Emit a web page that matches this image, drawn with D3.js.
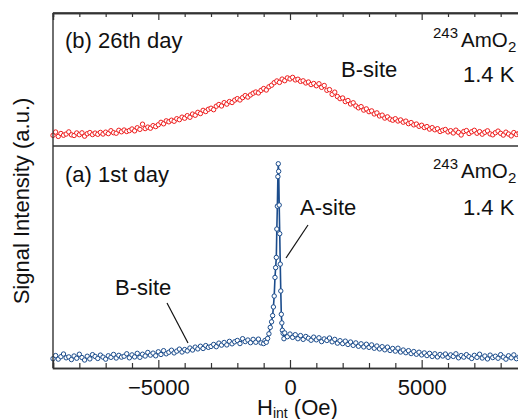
<!DOCTYPE html>
<html>
<head>
<meta charset="utf-8">
<script src="https://cdn.jsdelivr.net/npm/d3@7"></script>
<style>
  body { margin: 0; background: #fff; }
  text { font-family: "Liberation Sans", Arial, sans-serif; fill: #111; }
</style>
</head>
<body>
<div id="chart"></div>
<script>
// field grid (Oe), shared by both spectra
var fieldGrid = [
  -9000,-8900,-8800,-8700,-8600,-8500,-8400,-8300,-8200,-8100,
  -8000,-7900,-7800,-7700,-7600,-7500,-7400,-7300,-7200,-7100,
  -7000,-6900,-6800,-6700,-6600,-6500,-6400,-6300,-6200,-6100,
  -6000,-5900,-5800,-5700,-5600,-5500,-5400,-5300,-5200,-5100,
  -5000,-4900,-4800,-4700,-4600,-4500,-4400,-4300,-4200,-4100,
  -4000,-3900,-3800,-3700,-3600,-3500,-3400,-3300,-3200,-3100,
  -3000,-2900,-2800,-2700,-2600,-2500,-2400,-2300,-2200,-2100,
  -2000,-1900,-1800,-1700,-1600,-1500,-1400,-1300,-1200,-1100,
  -1000,-900,-800,-700,-600,-500,-400,-300,-200,-100,
  0,100,200,300,400,500,600,700,800,900,
  1000,1100,1200,1300,1400,1500,1600,1700,1800,1900,
  2000,2100,2200,2300,2400,2500,2600,2700,2800,2900,
  3000,3100,3200,3300,3400,3500,3600,3700,3800,3900,
  4000,4100,4200,4300,4400,4500,4600,4700,4800,4900,
  5000,5100,5200,5300,5400,5500,5600,5700,5800,5900,
  6000,6100,6200,6300,6400,6500,6600,6700,6800,6900,
  7000,7100,7200,7300,7400,7500,7600,7700,7800,7900,
  8000,8100,8200,8300,8400,8500,8600,8700,8800,8900,
  9000
];

// (b) 26th day, red
var day26Signal = [
  8.0,10.5,7.2,9.4,8.1,9.0,10.6,8.4,7.9,9.8,
  8.5,9.9,7.4,9.2,10.1,8.6,9.7,8.8,10.2,9.0,
  10.4,9.3,11.5,10.0,9.6,11.8,10.7,12.0,10.9,11.6,
  12.8,11.4,13.7,12.5,16.4,13.1,14.2,13.4,15.3,14.6,
  16.0,17.8,16.7,18.9,18.2,19.4,18.6,20.5,19.8,21.7,
  20.9,22.8,21.6,24.0,23.1,25.3,24.4,26.8,25.9,27.6,
  28.4,27.3,29.9,31.2,30.1,32.6,31.5,33.4,32.7,34.5,
  35.6,34.6,36.4,37.9,36.8,38.4,39.7,40.6,39.9,41.8,
  43.2,42.1,44.5,45.7,47.6,48.9,47.8,50.3,49.1,51.2,
  50.4,51.6,49.7,50.2,48.6,49.0,47.4,48.1,46.2,47.0,
  45.3,46.8,44.1,45.5,41.9,42.4,38.8,40.5,37.2,35.6,
  36.1,33.4,34.2,31.6,32.5,30.1,28.7,29.6,27.0,27.9,
  25.8,26.4,24.1,24.9,22.6,23.2,21.0,21.9,20.2,19.4,
  20.5,18.8,19.6,17.9,18.7,16.8,17.6,15.9,16.5,14.8,
  15.6,13.9,14.6,12.7,13.8,12.2,13.0,10.9,11.8,12.4,
  10.6,11.5,9.8,11.9,10.2,8.3,10.9,11.6,9.4,10.7,
  11.8,9.6,10.8,8.9,10.3,11.4,9.1,8.4,10.0,11.2,
  9.5,8.2,10.4,9.0,7.6,10.1,8.7,9.6,7.9,9.3,
  8.8
];

// (a) 1st day, blue: background below/above the A-site line plus finely sampled peak
var day1LowSignal = [
  4.2,5.6,4.0,5.1,6.3,4.6,5.0,3.8,5.4,4.4,
  6.2,4.7,3.6,5.3,4.1,6.0,5.2,4.3,5.8,4.9,
  4.0,5.5,4.8,6.1,4.5,5.7,4.9,5.3,6.4,4.6,
  5.9,5.0,6.6,4.8,6.2,5.4,7.0,5.8,6.7,5.5,
  7.3,6.1,7.8,6.4,7.1,8.0,6.8,7.6,8.5,7.2,
  8.3,7.7,9.0,8.1,9.4,8.6,9.8,8.8,10.1,9.3,
  9.7,10.6,9.6,11.2,10.3,11.5,10.4,12.0,10.9,11.8,
  12.4,11.0,13.2,11.9,12.6,11.4,12.9,11.6,13.0,11.3
];
var peakField = [
  -1000,-950,-900,-850,-800,-750,-700,-660,-630,-600,-570,-545,-520,-500,
  -480,-460,-445,-430,-410,-390,-370,-350,-330,-310,-290,-260,-230,-200
];
var peakSignal = [
  11.0,12.4,11.6,13.3,15.4,18.3,20.8,23.6,27.5,32.4,40.8,45.2,49.8,62.6,
  72.9,86.2,92.0,88.6,73.4,60.5,46.8,34.7,24.2,20.3,17.0,15.6,13.2,15.8
];
var day1HighSignal = [
  14.1,15.3,13.8,15.0,13.2,14.6,12.9,14.2,13.4,12.5,
  13.9,12.7,13.6,11.9,13.1,12.4,13.5,11.8,12.9,11.2,
  12.3,11.0,12.1,10.6,11.7,10.2,11.3,9.8,10.9,9.5,
  10.7,9.3,10.4,8.9,9.9,8.6,9.6,8.2,9.4,7.9,
  8.8,7.6,8.9,7.2,8.1,6.9,7.8,6.5,7.4,6.2,
  7.1,5.9,6.8,5.6,6.6,5.2,6.4,5.0,6.1,5.4,
  6.3,4.8,5.9,5.2,6.4,4.6,5.6,4.9,6.0,5.1,
  4.3,5.7,4.8,6.2,4.5,5.4,4.1,5.8,4.7,5.3,
  4.4,6.0,4.9,4.0,5.5,4.6,5.9,4.2,5.0,4.5,
  5.6,4.8
];

var majorTicks = [-5000, 0, 5000];
var minorTicks = [-9000,-8000,-7000,-6000,-4000,-3000,-2000,-1000,1000,2000,3000,4000,6000,7000,8000,9000];

var redColor = "#ee1c1c";
var blueColor = "#1b4c8c";
var frameColor = "#333";

var width = 518, height = 419;

var svg = d3.select("#chart").append("svg")
    .attr("width", width)
    .attr("height", height);

var x = d3.scaleLinear().domain([-9000, 9000]).range([53, 527]);
var yB = d3.scaleLinear().domain([0, 100]).range([146, 13]);
var yA = d3.scaleLinear().domain([0, 100]).range([368, 146]);

var red = fieldGrid.map(function(h, i) { return { h: h, v: day26Signal[i] }; });

var blueField = fieldGrid.slice(0, 80).concat(peakField, fieldGrid.slice(89));
var blueSignal = day1LowSignal.concat(peakSignal, day1HighSignal);
var blue = blueField.map(function(h, i) { return { h: h, v: blueSignal[i] }; });

// blue connecting line
var line = d3.line()
    .x(function(d) { return x(d.h); })
    .y(function(d) { return yA(d.v); });

svg.append("path")
    .datum(blue)
    .attr("d", line)
    .attr("fill", "none")
    .attr("stroke", blueColor)
    .attr("stroke-width", 1.6);

svg.selectAll(".pt-blue")
    .data(blue)
    .enter().append("circle")
    .attr("class", "pt-blue")
    .attr("cx", function(d) { return x(d.h); })
    .attr("cy", function(d) { return yA(d.v); })
    .attr("r", 2.2)
    .attr("fill", "#fff")
    .attr("stroke", blueColor)
    .attr("stroke-width", 1);

svg.selectAll(".pt-red")
    .data(red)
    .enter().append("circle")
    .attr("class", "pt-red")
    .attr("cx", function(d) { return x(d.h); })
    .attr("cy", function(d) { return yB(d.v); })
    .attr("r", 2.2)
    .attr("fill", "#fff")
    .attr("stroke", redColor)
    .attr("stroke-width", 1);

// frame
function hline(y) {
    svg.append("line")
        .attr("x1", 53).attr("x2", width)
        .attr("y1", y).attr("y2", y)
        .attr("stroke", frameColor).attr("stroke-width", 1.4);
}
hline(yB.range()[1]);
hline(yB.range()[0]);

svg.append("line")
    .attr("x1", 53).attr("x2", 53)
    .attr("y1", 13).attr("y2", 368)
    .attr("stroke", frameColor).attr("stroke-width", 1.4);

// bottom axis: minor + major ticks pointing inwards
var gMinorB = svg.append("g")
    .attr("transform", "translate(0,368)")
    .call(d3.axisBottom(x).tickValues(minorTicks).tickSize(-5).tickFormat(""));
var gMajorB = svg.append("g")
    .attr("transform", "translate(0,368)")
    .call(d3.axisBottom(x).tickValues(majorTicks).tickSize(-8).tickPadding(11)
        .tickFormat(d3.format("d")));

// top axis
var gMinorT = svg.append("g")
    .attr("transform", "translate(0,13)")
    .call(d3.axisTop(x).tickValues(minorTicks).tickSize(-4).tickFormat(""));
var gMajorT = svg.append("g")
    .attr("transform", "translate(0,13)")
    .call(d3.axisTop(x).tickValues(majorTicks).tickSize(-7).tickFormat(""));

[gMinorB, gMajorB, gMinorT, gMajorT].forEach(function(g) {
    g.select(".domain").attr("stroke", frameColor).attr("stroke-width", 1.4);
    g.selectAll(".tick line").attr("stroke", frameColor).attr("stroke-width", 1.2);
});
gMajorB.selectAll(".tick text")
    .style("font-family", "Liberation Sans, Arial, sans-serif")
    .style("font-size", "22px")
    .attr("fill", "#111");

// axis titles
svg.append("text")
    .attr("transform", "translate(29,201) rotate(-90)")
    .attr("text-anchor", "middle")
    .style("font-size", "22px")
    .text("Signal Intensity (a.u.)");

var xt = svg.append("text")
    .attr("x", 257).attr("y", 415)
    .style("font-size", "22px");
xt.append("tspan").text("H");
xt.append("tspan").attr("dy", 3).style("font-size", "14px").text("int");
xt.append("tspan").attr("dy", -3).text(" (Oe)");

// panel annotations
function label(txt, xp, yp) {
    return svg.append("text")
        .attr("x", xp).attr("y", yp)
        .style("font-size", "22px")
        .text(txt);
}

function compound(yp) {
    var t = svg.append("text")
        .attr("y", yp);
    t.append("tspan").attr("x", 433).attr("dy", -9).style("font-size", "15px").text("243");
    t.append("tspan").attr("x", 461).attr("dy", 9).style("font-size", "20.5px").text("AmO");
    t.append("tspan").attr("x", 508).attr("dy", 5).style("font-size", "15px").text("2");
}

label("(b) 26th day", 65, 48);
label("B-site", 341, 77);
compound(47);
label("1.4 K", 463, 82);

label("(a) 1st day", 65, 182);
compound(178);
label("1.4 K", 463, 215);
label("A-site", 300, 215);
label("B-site", 115, 295);

svg.append("line")
    .attr("x1", 308).attr("y1", 225).attr("x2", 286).attr("y2", 258)
    .attr("stroke", "#111").attr("stroke-width", 1.2);
svg.append("line")
    .attr("x1", 167).attr("y1", 303).attr("x2", 188).attr("y2", 343)
    .attr("stroke", "#111").attr("stroke-width", 1.2);
</script>
</body>
</html>
